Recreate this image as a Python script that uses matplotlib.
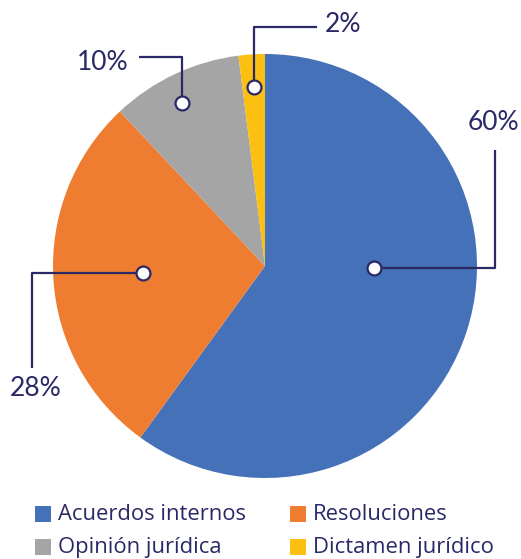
import matplotlib
matplotlib.use('Agg')
from matplotlib import pyplot as plt
from matplotlib.patches import Rectangle

categories = ['Acuerdos internos', 'Resoluciones', 'Opinión jurídica', 'Dictamen jurídico']
values = [60, 28, 10, 2]
labels = ['60%', '28%', '10%', '2%']
colors = ['#4571b8', '#ee7d31', '#a5a5a5', '#fbc012']
navy = '#2b2866'

W, H = 521, 559
fig = plt.figure(figsize=(W / 100, H / 100), dpi=100)
ax = fig.add_axes([0, 0, 1, 1])

plt.rcParams['font.family'] = ['Lato', 'DejaVu Sans']

# pie in pixel coordinates (y measured upward)
cx, cy, r = 265, H - 266, 212
ax.pie(values, colors=colors, startangle=90, counterclock=False,
       center=(cx, cy), radius=r, frame=True,
       wedgeprops=dict(linewidth=0))
ax.set_xlim(0, W)
ax.set_ylim(0, H)
ax.set_aspect('equal')
ax.axis('off')

# leader lines: dot, path (pixel coords, y down), label position, alignment
leaders = [
    ([(374, 268), (495, 268), (495, 150)], (493, 122), 'center'),
    ([(143, 273), (32, 273), (32, 368)], (36, 388), 'center'),
    ([(182, 103), (182, 57), (139, 57)], (129, 62), 'right'),
    ([(254, 87), (254, 27), (317, 27)], (325, 25), 'left'),
]
for (pts, (tx, ty), ha), lab in zip(leaders, labels):
    xs = [p[0] for p in pts]
    ys = [H - p[1] for p in pts]
    ax.plot(xs, ys, color=navy, lw=1.6, solid_capstyle='butt', zorder=3)
    ax.plot(xs[0], ys[0], 'o', ms=10, mfc='white', mec=navy, mew=1.6, zorder=4)
    ax.text(tx, H - ty, lab, color=navy, fontsize=19, ha=ha, va='center')

# legend, two columns, row-wise
spots = [(35, 514), (290, 514), (35, 547), (290, 547)]
for (lx, ly), name, c in zip(spots, categories, colors):
    ax.add_patch(Rectangle((lx, H - ly - 8), 16, 16, facecolor=c, edgecolor='none'))
    ax.text(lx + 23, H - ly, name, color=navy, fontsize=15.8,
            family=['Open Sans', 'DejaVu Sans'], ha='left', va='center')

fig.savefig('out.png', dpi=100)
